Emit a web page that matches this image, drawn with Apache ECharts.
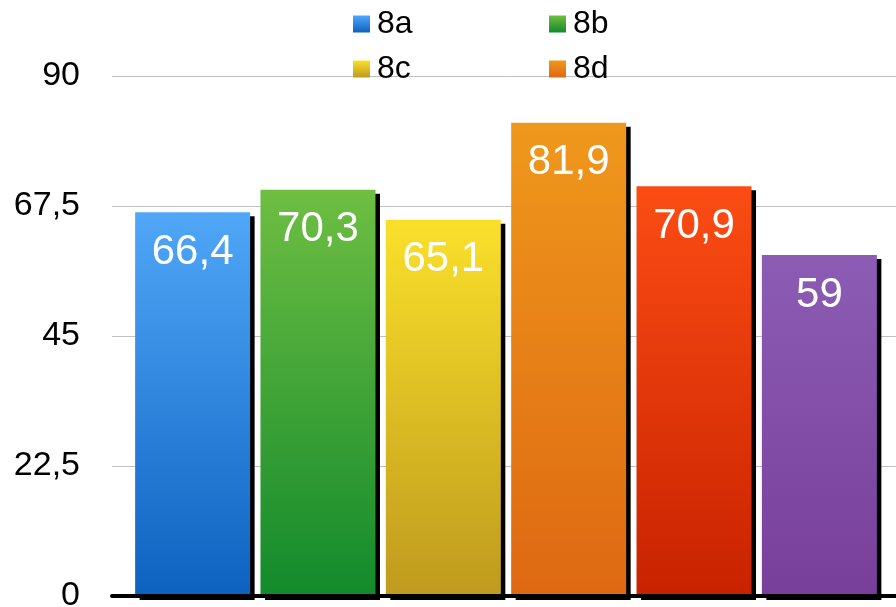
<!DOCTYPE html>
<html>
<head>
<meta charset="utf-8">
<script src="https://cdn.jsdelivr.net/npm/echarts@6/dist/echarts.min.js"></script>
<style>
html,body{margin:0;padding:0;background:#fff;overflow:hidden;}
#chart{width:896px;height:607px;}
</style>
</head>
<body>
<div id="chart"></div>
<script>
const seriesNames = ['8a', '8b', '8c', '8d', '8e', '8f'];
const seriesValues = [66.4, 70.3, 65.1, 81.9, 70.9, 59];
const legendNames = ['8a', '8b', '8c', '8d'];
const yTicks = [0, 22.5, 45, 67.5, 90];

const topColors = ['#50a7f7', '#6ebe42', '#fae02a', '#ef981c', '#fb4c14', '#8c5cb4'];
const bottomColors = ['#0d62c0', '#128a2c', '#bf9a1e', '#de6812', '#c82200', '#783f9a'];

function grad(i) {
  return new echarts.graphic.LinearGradient(0, 0, 0, 1, [
    { offset: 0, color: topColors[i] },
    { offset: 1, color: bottomColors[i] }
  ]);
}

const font = "'Liberation Sans', Arial, sans-serif";

const series = seriesNames.map((name, i) => ({
  name: name,
  type: 'bar',
  barWidth: 115,
  barGap: '9%',
  data: [seriesValues[i]],
  itemStyle: {
    color: grad(i),
    shadowColor: '#000',
    shadowBlur: 0,
    shadowOffsetX: 4.5,
    shadowOffsetY: 4
  },
  label: {
    show: true,
    position: 'insideTop',
    distance: 19,
    color: '#fff',
    fontSize: 42,
    fontFamily: font,
    formatter: p => String(p.value).replace('.', ',')
  }
}));

const legendPos = [[353, 8], [549, 8], [353, 53], [549, 53]];
const legends = legendNames.map((n, i) => ({
  data: [n],
  left: legendPos[i][0],
  top: legendPos[i][1],
  padding: 0,
  icon: 'rect',
  itemWidth: 17,
  itemHeight: 17,
  selectedMode: false,
  textStyle: { fontSize: 32, fontFamily: font, color: '#000', padding: [0, 0, 0, 2] }
}));

const chart = echarts.init(document.getElementById('chart'), null, { renderer: 'canvas' });
chart.setOption({
  animation: false,
  backgroundColor: '#fff',
  legend: legends,
  grid: { left: 112, right: -4, top: 76, bottom: 11, containLabel: false, outerBoundsMode: 'none' },
  xAxis: {
    type: 'category',
    data: [''],
    axisLine: { show: true, lineStyle: { color: '#000', width: 4 } },
    axisTick: { show: false },
    axisLabel: { show: false },
    z: 10
  },
  yAxis: {
    type: 'value',
    min: yTicks[0],
    max: yTicks[yTicks.length - 1],
    interval: 22.5,
    axisLine: { show: false },
    axisTick: { show: false },
    splitLine: { lineStyle: { color: '#c0c0c0', width: 1 } },
    axisLabel: {
      fontSize: 34,
      fontFamily: font,
      color: '#000',
      margin: 32,
      formatter: v => String(v).replace('.', ',')
    }
  },
  series: series
});
</script>
</body>
</html>
